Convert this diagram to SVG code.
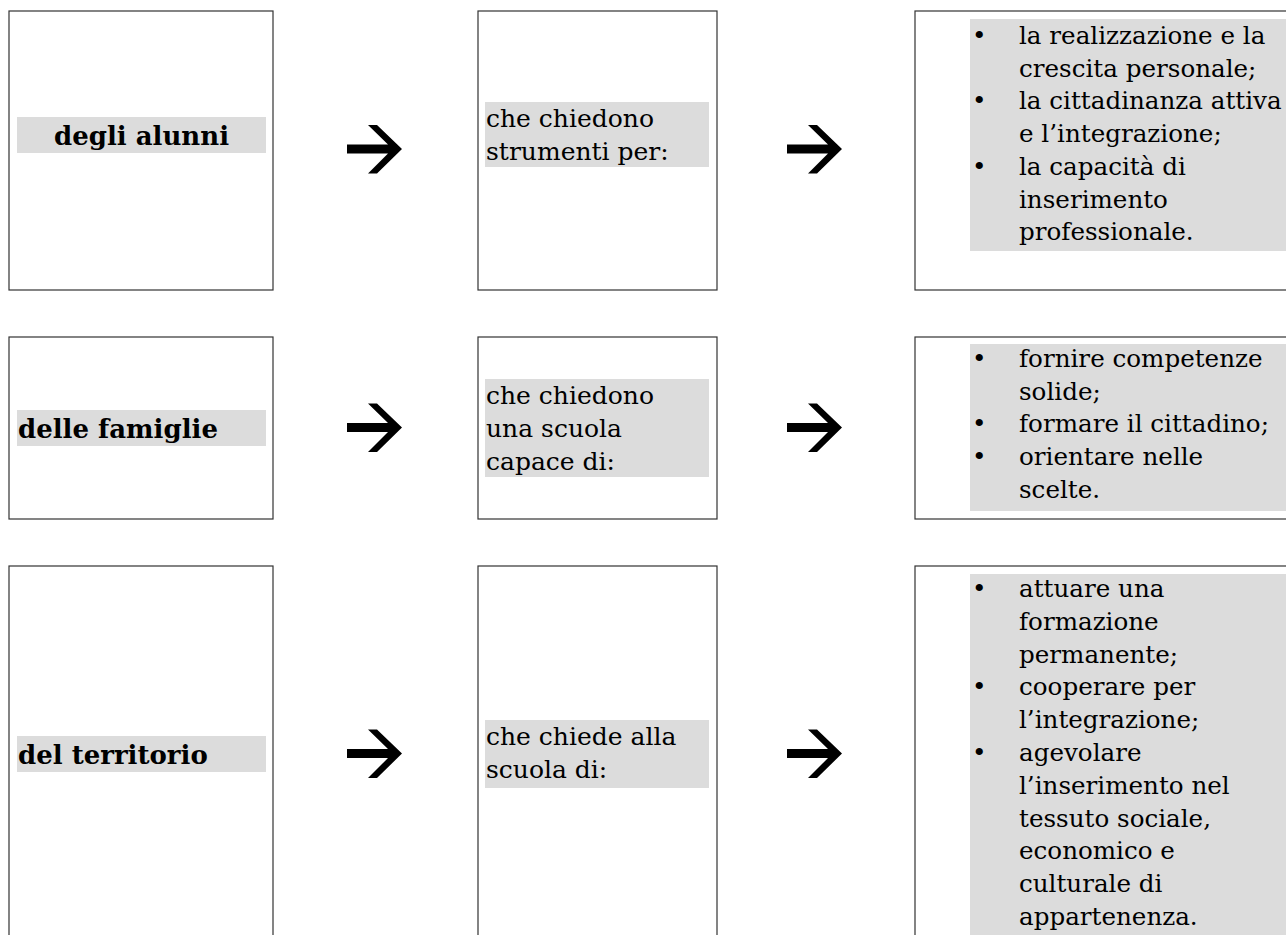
<svg xmlns="http://www.w3.org/2000/svg" width="1286" height="935" viewBox="0 0 1286 935">
<style>
.box{fill:#fff;stroke:#333;stroke-width:1.2}
.band{fill:#dcdcdc}
.b{font-family:"DejaVu Serif","Liberation Serif",serif;font-weight:bold;font-size:26px;fill:#000}
.m{font-family:"DejaVu Serif","Liberation Serif",serif;font-size:25px;fill:#000}
.r{font-family:"DejaVu Serif","Liberation Serif",serif;font-size:24.6px;fill:#000}
.arr{fill:#000}
</style>
<defs>
<path id="arrow" d="M347,144.5 L388,144.5 L368,125 L377,125 L402,149 L377,173.5 L368,173.5 L388,153.5 L347,153.5 Z"/>
</defs>
<rect width="1286" height="935" fill="#fff"/>

<g id="connectors" class="arr">
<use href="#arrow"/>
<use href="#arrow" transform="translate(440,0)"/>
<use href="#arrow" transform="translate(0,278.5)"/>
<use href="#arrow" transform="translate(440,278.5)"/>
<use href="#arrow" transform="translate(0,604.5)"/>
<use href="#arrow" transform="translate(440,604.5)"/>
</g>

<g id="n-alunni">
<rect class="box" x="9" y="11" width="264" height="279"/>
<rect class="band" x="17" y="117" width="249" height="36"/>
<text class="b" x="141.5" y="145" text-anchor="middle">degli alunni</text>
</g>
<g id="n-alunni-mid">
<rect class="box" x="478" y="11" width="239" height="279"/>
<rect class="band" x="485" y="102" width="224" height="65"/>
<text class="m" x="486" y="127">che chiedono</text>
<text class="m" x="486" y="160">strumenti per:</text>
</g>
<g id="n-alunni-right">
<rect class="box" x="915" y="11" width="380" height="279"/>
<rect class="band" x="970" y="19" width="320" height="232"/>
<g class="r">
<text x="972" y="44">•</text><text x="1019" y="44">la realizzazione e la</text>
<text x="1019" y="76.7">crescita personale;</text>
<text x="972" y="109.4">•</text><text x="1019" y="109.4">la cittadinanza attiva</text>
<text x="1019" y="142.1">e l’integrazione;</text>
<text x="972" y="174.8">•</text><text x="1019" y="174.8">la capacità di</text>
<text x="1019" y="207.5">inserimento</text>
<text x="1019" y="240.2">professionale.</text>
</g>
</g>

<g id="n-famiglie">
<rect class="box" x="9" y="337" width="264" height="182"/>
<rect class="band" x="17" y="410" width="249" height="36"/>
<text class="b" x="18" y="438">delle famiglie</text>
</g>
<g id="n-famiglie-mid">
<rect class="box" x="478" y="337" width="239" height="182"/>
<rect class="band" x="485" y="379" width="224" height="98"/>
<text class="m" x="486" y="404">che chiedono</text>
<text class="m" x="486" y="437">una scuola</text>
<text class="m" x="486" y="470">capace di:</text>
</g>
<g id="n-famiglie-right">
<rect class="box" x="915" y="337" width="380" height="182"/>
<rect class="band" x="970" y="344" width="320" height="167"/>
<g class="r">
<text x="972" y="367">•</text><text x="1019" y="367">fornire competenze</text>
<text x="1019" y="399.7">solide;</text>
<text x="972" y="432.4">•</text><text x="1019" y="432.4">formare il cittadino;</text>
<text x="972" y="465.1">•</text><text x="1019" y="465.1">orientare nelle</text>
<text x="1019" y="497.8">scelte.</text>
</g>
</g>

<g id="n-territorio">
<rect class="box" x="9" y="566" width="264" height="400"/>
<rect class="band" x="17" y="736" width="249" height="36"/>
<text class="b" x="18" y="764">del territorio</text>
</g>
<g id="n-territorio-mid">
<rect class="box" x="478" y="566" width="239" height="400"/>
<rect class="band" x="485" y="720" width="224" height="68"/>
<text class="m" x="486" y="745">che chiede alla</text>
<text class="m" x="486" y="778">scuola di:</text>
</g>
<g id="n-territorio-right">
<rect class="box" x="915" y="566" width="380" height="400"/>
<rect class="band" x="970" y="574" width="320" height="380"/>
<g class="r">
<text x="972" y="597">•</text><text x="1019" y="597">attuare una</text>
<text x="1019" y="629.8">formazione</text>
<text x="1019" y="662.6">permanente;</text>
<text x="972" y="695.4">•</text><text x="1019" y="695.4">cooperare per</text>
<text x="1019" y="728.2">l’integrazione;</text>
<text x="972" y="761">•</text><text x="1019" y="761">agevolare</text>
<text x="1019" y="793.8">l’inserimento nel</text>
<text x="1019" y="826.6">tessuto sociale,</text>
<text x="1019" y="859.4">economico e</text>
<text x="1019" y="892.2">culturale di</text>
<text x="1019" y="925">appartenenza.</text>
</g>
</g>
</svg>
